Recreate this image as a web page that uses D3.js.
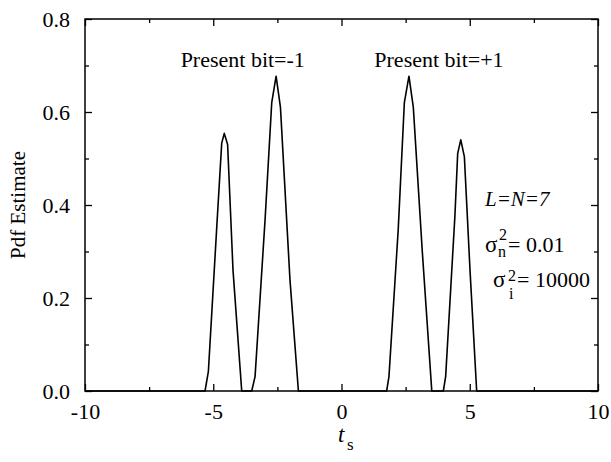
<!DOCTYPE html>
<html>
<head>
<meta charset="utf-8">
<script src="https://cdn.jsdelivr.net/npm/d3@7"></script>
<style>
  body { margin: 0; background: #fff; }
  text { font-family: "Liberation Serif", "Times New Roman", serif; fill: #000; }
</style>
</head>
<body>
<svg id="drawing_region"></svg>
<script>
// pdf estimate curve
const tsValues  = [-10, -5.32, -5.19, -4.87, -4.67, -4.57, -4.44, -4.23, -3.89,
                   -3.50, -3.37, -2.98, -2.72, -2.55, -2.38, -2.01, -1.68,
                   1.76, 1.85, 2.21, 2.45, 2.63, 2.80, 3.15, 3.52,
                   3.97, 4.06, 4.42, 4.53, 4.65, 4.79, 5.01, 5.27, 10];
const pdfValues = [0, 0, 0.042, 0.346, 0.533, 0.554, 0.53, 0.26, 0,
                   0, 0.031, 0.368, 0.62, 0.677, 0.61, 0.24, 0,
                   0, 0.031, 0.346, 0.62, 0.677, 0.61, 0.30, 0,
                   0, 0.031, 0.375, 0.511, 0.54, 0.504, 0.26, 0, 0];

const xMajorTicks = [-10, -5, 0, 5, 10];
const xMinorTicks = [-7.5, -2.5, 2.5, 7.5];
const yMajorTicks = [0, 0.2, 0.4, 0.6, 0.8];
const yMinorTicks = [0.1, 0.3, 0.5, 0.7];

const labels = [
    { text: "Present bit=-1", ts: -3.85 },
    { text: "Present bit=+1", ts: 3.8 }
];

const config = {
    width: 611,
    height: 462,
    margin: { top: 19, right: 13, bottom: 71, left: 85 }
};

const data = tsValues.map((t, i) => ({ t: t, p: pdfValues[i] }));

const svg = d3.select('#drawing_region')
    .attr('width', config.width)
    .attr('height', config.height);

const inner_width = config.width - config.margin.left - config.margin.right;
const inner_height = config.height - config.margin.top - config.margin.bottom;

const chart = svg.append('g')
    .attr('transform', `translate(${config.margin.left}, ${config.margin.top})`);

const xscale = d3.scaleLinear().domain([-10, 10]).range([0, inner_width]);
const yscale = d3.scaleLinear().domain([0, 0.8]).range([inner_height, 0]);

// axes, ticks pointing inward on all sides
function styleAxis(g) {
    g.attr('font-family', null);
    g.select('.domain').remove();
    g.selectAll('line').attr('stroke', '#000').attr('stroke-width', 1.3);
    g.selectAll('text').attr('font-size', '22px');
}

chart.append('g')
    .attr('transform', `translate(0, ${inner_height})`)
    .call(d3.axisBottom(xscale).tickValues(xMajorTicks).tickSize(-7).tickPadding(12).tickFormat(d => String(d)))
    .call(styleAxis);
chart.append('g')
    .attr('transform', `translate(0, ${inner_height})`)
    .call(d3.axisBottom(xscale).tickValues(xMinorTicks).tickSize(-4).tickFormat(''))
    .call(styleAxis);
chart.append('g')
    .call(d3.axisTop(xscale).tickValues(xMajorTicks).tickSize(-7).tickFormat(''))
    .call(styleAxis);
chart.append('g')
    .call(d3.axisTop(xscale).tickValues(xMinorTicks).tickSize(-4).tickFormat(''))
    .call(styleAxis);

chart.append('g')
    .call(d3.axisLeft(yscale).tickValues(yMajorTicks).tickSize(-7).tickPadding(15).tickFormat(d => d.toFixed(1)))
    .call(styleAxis);
chart.append('g')
    .call(d3.axisLeft(yscale).tickValues(yMinorTicks).tickSize(-4).tickFormat(''))
    .call(styleAxis);
chart.append('g')
    .attr('transform', `translate(${inner_width}, 0)`)
    .call(d3.axisRight(yscale).tickValues(yMajorTicks).tickSize(-7).tickFormat(''))
    .call(styleAxis);
chart.append('g')
    .attr('transform', `translate(${inner_width}, 0)`)
    .call(d3.axisRight(yscale).tickValues(yMinorTicks).tickSize(-4).tickFormat(''))
    .call(styleAxis);

// frame
chart.append('rect')
    .attr('width', inner_width)
    .attr('height', inner_height)
    .attr('fill', 'none')
    .attr('stroke', '#000')
    .attr('stroke-width', 1.5);

// curve
const line = d3.line().x(d => xscale(d.t)).y(d => yscale(d.p));
chart.append('path')
    .datum(data)
    .attr('d', line)
    .attr('fill', 'none')
    .attr('stroke', '#000')
    .attr('stroke-width', 1.6)
    .attr('stroke-linejoin', 'round');

// peak labels
chart.selectAll('.peaklabel')
    .data(labels)
    .enter()
    .append('text')
    .attr('class', 'peaklabel')
    .attr('x', d => xscale(d.ts))
    .attr('y', 48)
    .attr('text-anchor', 'middle')
    .attr('font-size', '22px')
    .text(d => d.text);

// axis titles
svg.append('text')
    .attr('transform', 'translate(25, 205) rotate(-90)')
    .attr('text-anchor', 'middle')
    .attr('font-size', '21px')
    .text('Pdf Estimate');

svg.append('text')
    .attr('x', 338).attr('y', 442)
    .attr('font-size', '23px')
    .attr('font-style', 'italic')
    .text('t');
svg.append('text')
    .attr('x', 347).attr('y', 450)
    .attr('font-size', '17px')
    .text('s');

// parameter notes
svg.append('text')
    .attr('x', 485).attr('y', 206)
    .attr('font-size', '21px')
    .attr('font-style', 'italic')
    .text('L=N=7');

svg.append('text').attr('x', 485).attr('y', 252).attr('font-size', '23px').text('σ');
svg.append('text').attr('x', 499).attr('y', 240).attr('font-size', '16px').text('2');
svg.append('text').attr('x', 498).attr('y', 257).attr('font-size', '16px').text('n');
svg.append('text').attr('x', 508).attr('y', 252).attr('font-size', '22px').text('= 0.01');

svg.append('text').attr('x', 493).attr('y', 287).attr('font-size', '23px').text('σ');
svg.append('text').attr('x', 508).attr('y', 281).attr('font-size', '16px').text('2');
svg.append('text').attr('x', 509).attr('y', 299).attr('font-size', '16px').text('i');
svg.append('text').attr('x', 517).attr('y', 287).attr('font-size', '22px').text('= 10000');
</script>
</body>
</html>
